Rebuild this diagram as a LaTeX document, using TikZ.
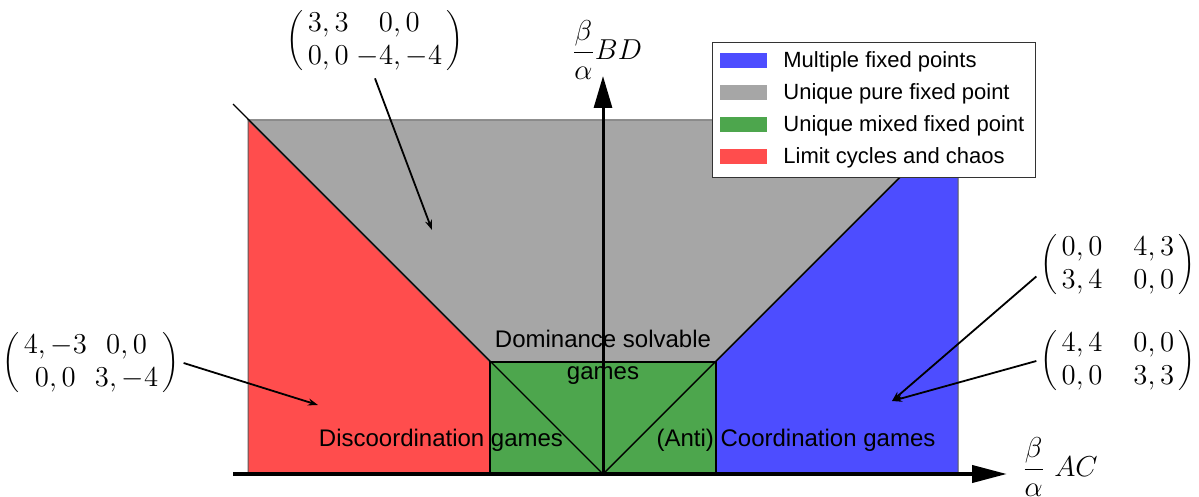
\documentclass[tikz,border=0pt]{standalone}
\usepackage{amsmath}
\usepackage{graphicx}
\usepackage{fontspec}
\setsansfont{Liberation Sans}
\usetikzlibrary{arrows.meta}
\definecolor{regblue}{RGB}{77,77,255}
\definecolor{reggray}{RGB}{166,166,166}
\definecolor{reggreen}{RGB}{77,166,77}
\definecolor{regred}{RGB}{255,77,77}
% 2x2 payoff matrix with slightly flattened parentheses
\newcommand{\flatparen}[1]{\vcenter{\hbox{\scalebox{0.8}[0.87]{$\biggl#1$}}}}
\newcommand{\payoffmat}[1]{$\arraycolsep=2pt\mathopen{\flatparen{(}}\hspace{2pt}\begin{matrix}#1\end{matrix}\hspace{2pt}\mathclose{\flatparen{)}}$}
\begin{document}
\begin{tikzpicture}[x=0.5pt,y=-0.5pt,
  region/.style={draw=gray!70!black,line width=0.5pt},
  diag/.style={draw=black,line width=0.7pt},
  ptr/.style={draw=black,line width=0.9pt,-{Stealth[length=5pt,width=3.5pt]}},
  axis/.style={draw=black},
  gamelabel/.style={font=\sffamily\fontsize{12}{16}\selectfont,inner sep=0pt},
  legtext/.style={font=\sffamily\fontsize{11}{13}\selectfont,inner sep=0pt,anchor=base west},
  payoff/.style={font=\fontsize{14.5}{16.5}\selectfont,inner sep=2pt},
  axlabel/.style={font=\fontsize{14}{17}\selectfont,inner sep=0pt}]
\useasboundingbox (0,0) rectangle (1199,497);

% corner points of the regions
\coordinate (TL) at (248,120);
\coordinate (TR) at (958,120);
\coordinate (ML) at (490,362);
\coordinate (MR) at (716,362);
\coordinate (BL) at (248,474);
\coordinate (BR) at (958,474);
\coordinate (GL) at (490,474);
\coordinate (GR) at (716,474);
\coordinate (O)  at (603,474);
\coordinate (DL) at (233,104);
\coordinate (DR) at (973,104);

% coloured regions
\path[region,fill=regred]  (TL) -- (ML) -- (GL) -- (BL) -- cycle;
\path[region,fill=reggray] (TL) -- (TR) -- (MR) -- (ML) -- cycle;
\path[region,fill=regblue] (TR) -- (BR) -- (GR) -- (MR) -- cycle;
\path[fill=reggreen,draw=black,line width=0.7pt] (ML) rectangle (GR);

% boundary diagonals through the origin
\draw[diag] (DL) -- (O);
\draw[diag] (DR) -- (O);

% region labels
\node[gamelabel,align=center] (dom) at (603,357) {Dominance solvable\\games};
\node[gamelabel,anchor=base] (disc) at (441,446) {Discoordination games};
\node[gamelabel,anchor=base] (coord) at (796,446) {(Anti) Coordination games};

% example payoff matrices
\node[payoff] (mTop) at (375,41) {\payoffmat{3,3 & 0,0\\ 0,0 & -4,-4}};
\node[payoff] (mLeft) at (91,363) {\payoffmat{4,-3 & 0,0\\ 0,0 & 3,-4}};
\node[payoff] (mRU) at (1118,265) {\payoffmat{0,0 & \hspace{11.5pt}4,3\\ 3,4 & \hspace{11.5pt}0,0}};
\node[payoff] (mRL) at (1118,361) {\payoffmat{4,4 & \hspace{11.5pt}0,0\\ 0,0 & \hspace{11.5pt}3,3}};

\coordinate (tTop) at (432,230);
\coordinate (tLeft) at (318,405);
\coordinate (tRight) at (892,401);
\draw[ptr] (mTop.south) -- (tTop);
\draw[ptr] (mLeft.east) -- (tLeft);
\draw[ptr] (mRU.188) -- (tRight);
\draw[ptr] (mRL.west) -- (tRight);

% axes
\coordinate (xs) at (233,474);
\coordinate (xe) at (1007,474);
\coordinate (ye) at (603,76);
\draw[axis,line width=2pt,-{Triangle[length=17.5pt,width=8.5pt]}] (xs) -- (xe);
\draw[axis,line width=1.5pt,-{Triangle[length=16pt,width=9pt]}] (O) -- (ye);
\node[axlabel] (xlab) at (1060,467) {$\dfrac{\beta}{\alpha}\ AC$};
\node[axlabel] (ylab) at (607,50) {$\dfrac{\beta}{\alpha}BD$};

% legend
\node[draw=black!80,line width=0.5pt,fill=white,minimum width=161.5pt,minimum height=67.5pt,inner sep=0pt] (legend) at (873.5,110.5) {};
\fill[regblue]  (720,53)  rectangle (767,68);
\fill[reggray]  (720,85)  rectangle (767,100);
\fill[reggreen] (720,117) rectangle (767,132);
\fill[regred]   (720,149) rectangle (767,164);
\node[legtext] (l1) at (783,68)  {Multiple fixed points};
\node[legtext] (l2) at (783,100) {Unique pure fixed point};
\node[legtext] (l3) at (783,132) {Unique mixed fixed point};
\node[legtext] (l4) at (783,164) {Limit cycles and chaos};
\end{tikzpicture}
\end{document}
